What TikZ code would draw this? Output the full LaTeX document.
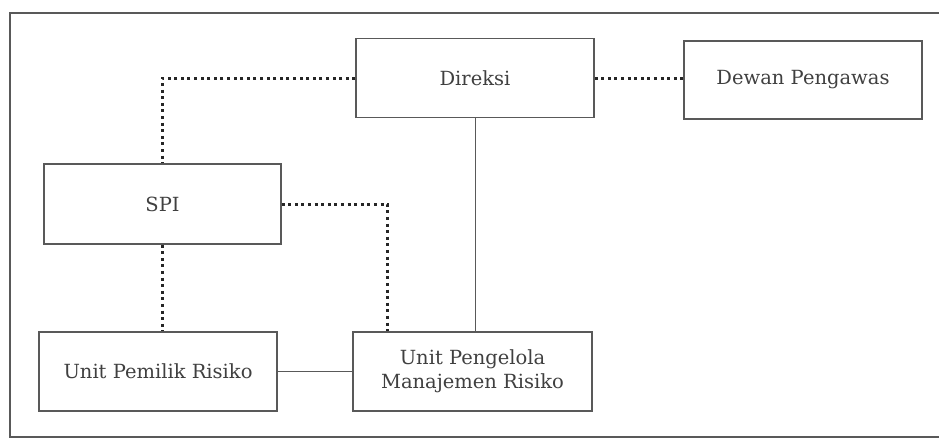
\documentclass[tikz,border=0pt]{standalone}
\usepackage{fontspec}
\setmainfont{DejaVu Serif}
\usetikzlibrary{positioning}

\tikzstyle{block} = [draw, rectangle, line width=1.1pt, minimum height=79pt, minimum width=238pt,
                     align=center, font=\fontsize{19.5}{24}\selectfont]
\tikzstyle{dotline} = [line width=3pt, dash pattern=on 3pt off 3.6pt]
\tikzstyle{solidline} = [line width=1pt]

\begin{document}
\begin{tikzpicture} [x=1pt, y=-1pt]

\def\colB{black!65};
\def\colT{black!75};
\def\colD{black!85};

\useasboundingbox (0,0) rectangle (939,439);

% outer frame (no right edge)
\draw[line width=1.2pt,\colB]
      (939,13) -- (10,13) -- (10,437) -- (939,437);

\node at (475,78)[block,draw=\colB,text=\colT]
               (D) {Direksi};

\node at (803,80)[block,draw=\colB,text=\colT,minimum height=78pt]
               (DP) {Dewan Pengawas};

\node at (162.5,204)[block,draw=\colB,text=\colT,minimum width=237pt,minimum height=80pt]
               (S) {SPI};

\node at (158,371.5)[block,draw=\colB,text=\colT]
               (P) {Unit Pemilik Risiko};

\node at (472.5,371.5)[block,draw=\colB,text=\colT,minimum width=239pt]
               (U) {Unit Pengelola\\Manajemen Risiko};

\draw[dotline,\colD]
      (D.west) -| (S.north);

\draw[dotline,\colD]
      (D.east) -- (D.east -| DP.west);

\draw[dotline,\colD]
      (S.east) -| ([xshift=35pt]U.north west);

\draw[dotline,\colD]
      (S.south) -- (S.south |- P.north);

\draw[solidline,\colB]
      (D.south) -- (D.south |- U.north);

\draw[solidline,\colB]
      (P.east) -- (U.west);

\end{tikzpicture}
\end{document}
